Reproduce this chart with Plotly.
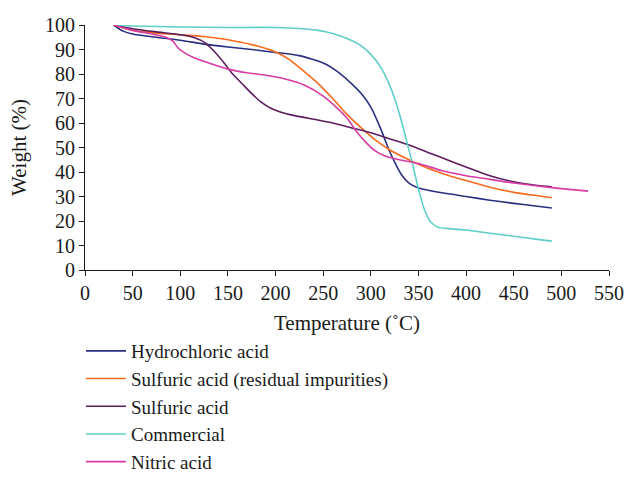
import plotly.graph_objects as go

# Hydrochloric acid
hcl_T = [30, 40, 50, 75, 100, 125, 150, 175, 200, 225, 250, 265, 280, 290, 300, 310, 318, 325, 332, 340, 350, 375, 400, 425, 450, 475, 490]
hcl_W = [100, 97.5, 96.3, 95, 93.8, 92.2, 91, 90, 88.8, 87.5, 84.5, 81, 76, 72, 66.5, 58, 50, 44, 39, 35.5, 33.5, 31.5, 30, 28.5, 27.2, 26, 25.3]

# Sulfuric acid (residual impurities)
sres_T = [30, 50, 75, 100, 125, 150, 175, 200, 215, 230, 245, 260, 275, 290, 305, 320, 340, 360, 380, 400, 425, 450, 475, 490]
sres_W = [100, 97.8, 96.7, 96, 95.3, 94, 92, 89, 85.8, 81, 76, 70, 63.5, 58, 53, 49, 45, 41.5, 38.8, 36.5, 33.8, 31.7, 30.3, 29.5]

# Sulfuric acid
sulf_T = [30, 50, 75, 100, 115, 125, 135, 145, 155, 165, 175, 185, 195, 205, 220, 240, 260, 280, 300, 320, 340, 360, 380, 400, 425, 450, 475, 490]
sulf_W = [100, 98.5, 97.2, 96, 94.8, 93, 89.5, 85, 80, 76, 72, 68.5, 66, 64.5, 63, 61.5, 60, 58, 56, 53.5, 51, 48, 45, 42, 38.5, 36, 34.5, 34]

# Commercial
com_T = [30, 50, 100, 150, 200, 225, 245, 260, 275, 290, 300, 310, 318, 325, 332, 338, 344, 350, 356, 362, 370, 385, 400, 425, 450, 475, 490]
com_W = [100, 99.6, 99.2, 99, 99, 98.6, 97.8, 96.5, 94.5, 91.5, 88, 83, 77, 70, 61, 52, 43, 33, 25, 20, 17.5, 16.8, 16.3, 15, 13.8, 12.5, 11.8]

# Nitric acid
nit_T = [30, 50, 70, 85, 92, 98, 105, 115, 130, 150, 170, 190, 210, 230, 250, 265, 275, 285, 295, 305, 315, 330, 350, 375, 400, 425, 450, 475, 500, 528]
nit_W = [100, 97.8, 96.3, 95, 93.5, 90.5, 88.5, 86.5, 84.5, 82, 80.5, 79.5, 78, 75.5, 71, 66, 62, 56.5, 52, 48.5, 46.5, 45, 43.5, 40.5, 38.5, 37, 35.5, 34.3, 33.2, 32.2]

x_ticks = [0, 50, 100, 150, 200, 250, 300, 350, 400, 450, 500, 550]
y_ticks = [0, 10, 20, 30, 40, 50, 60, 70, 80, 90, 100]

series = [
    ("Hydrochloric acid", hcl_T, hcl_W, "#2b2f80"),
    ("Sulfuric acid (residual impurities)", sres_T, sres_W, "#f86a1e"),
    ("Sulfuric acid", sulf_T, sulf_W, "#5c1d5f"),
    ("Commercial", com_T, com_W, "#5ecfc8"),
    ("Nitric acid", nit_T, nit_W, "#d63ca3"),
]

fig = go.Figure()
for name, xs, ys, col in series:
    fig.add_trace(go.Scatter(x=xs, y=ys, mode="lines", name=name,
                             line=dict(color=col, width=1.6, shape="spline", smoothing=0.6)))

font = "Liberation Serif"
txt = "#1a1a1a"
fig.update_layout(
    width=626, height=480,
    margin=dict(l=85, r=17, t=25, b=210, autoexpand=False),
    paper_bgcolor="white", plot_bgcolor="white",
    font=dict(family=font, size=19, color=txt),
    showlegend=True,
    legend=dict(x=-0.0076, y=-0.253, xanchor="left", yanchor="top",
                font=dict(family=font, size=19, color=txt),
                bgcolor="rgba(0,0,0,0)", itemwidth=40),
    xaxis=dict(range=[0, 550], tickvals=x_ticks, ticks="outside", ticklen=5,
               showline=True, linecolor=txt, linewidth=1, showgrid=False,
               zeroline=False, tickcolor=txt, automargin=False,
               title=dict(text="Temperature (˚C)", standoff=12,
                          font=dict(family=font, size=21, color=txt)),
               tickfont=dict(family=font, size=20, color=txt)),
    yaxis=dict(range=[0, 100], tickvals=y_ticks, ticks="outside", ticklen=5,
               showline=True, linecolor=txt, linewidth=1, showgrid=False,
               zeroline=False, tickcolor=txt, automargin=False,
               title=dict(text="Weight (%)", standoff=12,
                          font=dict(family=font, size=21, color=txt)),
               tickfont=dict(family=font, size=20, color=txt)),
)

fig.write_html("out.html",
               config={"displayModeBar": False},
               post_script="document.body.style.margin='0';document.body.style.overflow='hidden';")
